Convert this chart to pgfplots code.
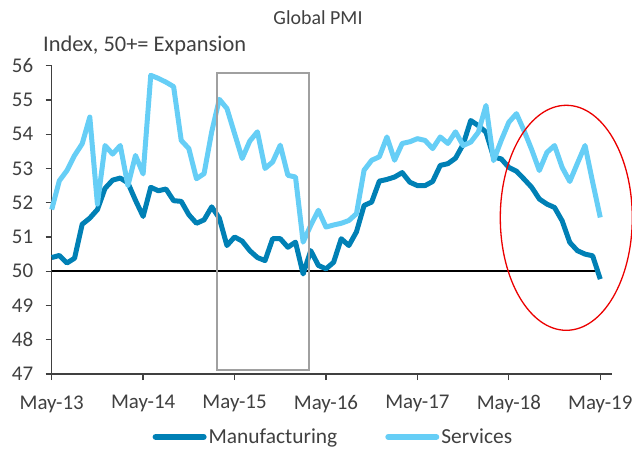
\documentclass[border=0pt]{standalone}
\usepackage{fontspec}
\setmainfont{Carlito}
\usepackage{pgfplots}
\usepackage{pgfplotstable}
\pgfplotsset{compat=1.18}

\definecolor{mfgblue}{RGB}{0,128,181}
\definecolor{svcblue}{RGB}{102,206,246}
\definecolor{txtgrey}{RGB}{64,64,64}
\definecolor{boxgrey}{RGB}{160,160,160}
\definecolor{ringred}{RGB}{235,0,0}

% Monthly PMI readings, May-13 (m=0) to May-19 (m=72)
\pgfplotstableread{
m mfg svc
0 50.40 51.80
1 50.46 52.64
2 50.24 52.94
3 50.38 53.38
4 51.37 53.72
5 51.55 54.50
6 51.80 51.96
7 52.42 53.67
8 52.66 53.42
9 52.72 53.67
10 52.58 52.50
11 52.07 53.38
12 51.60 52.84
13 52.45 55.72
14 52.35 55.63
15 52.40 55.52
16 52.06 55.39
17 52.04 53.82
18 51.65 53.58
19 51.40 52.70
20 51.50 52.85
21 51.88 54.07
22 51.55 55.02
23 50.75 54.75
24 51.00 54.02
25 50.88 53.29
26 50.60 53.80
27 50.40 54.07
28 50.31 53.00
29 50.95 53.19
30 50.95 53.68
31 50.70 52.80
32 50.85 52.75
33 49.92 50.85
34 50.60 51.34
35 50.17 51.78
36 50.07 51.29
37 50.26 51.35
38 50.95 51.40
39 50.75 51.48
40 51.15 51.68
41 51.92 52.95
42 52.02 53.24
43 52.63 53.34
44 52.68 53.92
45 52.75 53.24
46 52.88 53.73
47 52.60 53.78
48 52.50 53.87
49 52.50 53.82
50 52.62 53.58
51 53.09 53.92
52 53.14 53.73
53 53.30 54.07
54 53.70 53.67
55 54.40 53.77
56 54.25 54.06
57 54.06 54.84
58 53.33 53.23
59 53.28 53.82
60 53.03 54.35
61 52.92 54.60
62 52.69 54.10
63 52.45 53.55
64 52.11 52.94
65 51.96 53.47
66 51.86 53.67
67 51.47 53.03
68 50.84 52.62
69 50.60 53.15
70 50.50 53.67
71 50.45 52.60
72 49.77 51.57
}\pmi

\begin{document}
\begin{tikzpicture}
\useasboundingbox (-51.7bp,-75bp) rectangle (580.3bp,374bp);
\begin{axis}[
  at={(0,0)}, anchor=south west,
  scale only axis, width=560bp, height=308.3bp,
  xmin=0, xmax=73.5, ymin=47, ymax=56,
  axis x line*=bottom, axis y line*=left,
  axis line style={-, draw=txtgrey, line width=1.3bp},
  xtick={0,12,...,72},
  xticklabels={May-13,May-14,May-15,May-16,May-17,May-18,May-19},
  ytick={47,...,56},
  tick align=outside,
  major tick length=6bp,
  tick style={txtgrey, line width=1.3bp},
  ticklabel style={font=\fontsize{21}{21}\selectfont, text=txtgrey},
  xticklabel style={yshift=-12bp},
  yticklabel style={xshift=-9bp},
  /pgf/number format/assume math mode=true,
  clip=false,
  legend columns=2,
  legend style={at={(axis description cs:0.503,-0.204)}, anchor=center,
    draw=none, fill=none, font=\fontsize{21.5}{21.5}\selectfont, text=txtgrey,
    /tikz/every even column/.append style={column sep=46bp}},
  legend image code/.code={\draw[#1, line width=6bp, line cap=round] (3bp,0bp) -- (51bp,0bp);},
]
\addplot[black, line width=1.8bp, forget plot] coordinates {(0,50) (72,50)};
\addplot[mfgblue, line width=5bp, line join=round] table[x=m, y=mfg] {\pmi};
\addlegendentry{Manufacturing}
\addplot[svcblue, line width=5bp, line join=round] table[x=m, y=svc] {\pmi};
\addlegendentry{Services}
% highlight boxes
\draw[boxgrey, line width=1.5bp] (axis cs:21.67,47.12) rectangle (axis cs:33.79,55.78);
\draw[ringred, line width=1.3bp] (axis cs:67.54,51.56) ellipse [x radius=66bp, y radius=112.5bp];
\end{axis}
\node[font=\fontsize{20}{20}\selectfont, text=txtgrey] at (266.3bp,356bp) {Global PMI};
\node[font=\fontsize{22.5}{22.5}\selectfont, text=txtgrey, anchor=west, inner sep=0pt] at (-8.7bp,328bp) {Index, 50+= Expansion};
\end{tikzpicture}
\end{document}
